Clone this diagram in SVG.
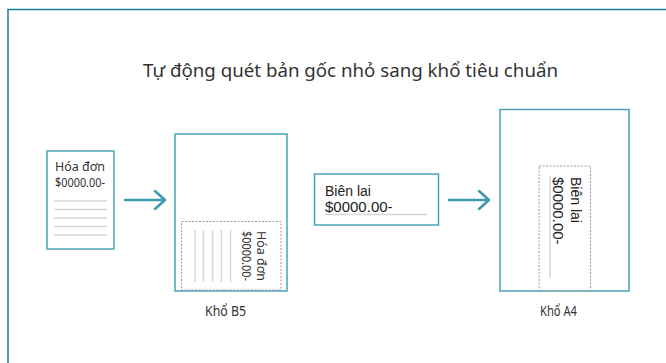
<svg xmlns="http://www.w3.org/2000/svg" width="666" height="363" viewBox="0 0 666 363">
<style>
.frame{fill:none;stroke:#1b7f95;stroke-width:1.5}
.box{fill:#fff;stroke:#4aa3b5;stroke-width:1.5}
.dot{fill:none;stroke:#9a9a9a;stroke-width:1;stroke-dasharray:2 1.5}
.gl{stroke:#d6d6d6;stroke-width:1.5;fill:none}
.arr{stroke:#3d9cb0;stroke-width:2.5;fill:none;stroke-linecap:round;stroke-linejoin:round}
.t{font-family:"Noto Sans","Open Sans","DejaVu Sans",sans-serif;fill:#333}
.a{font-family:"Liberation Sans",Arial,sans-serif;fill:#222}
</style>
<rect width="666" height="363" fill="#fff"/>
<path class="frame" d="M8,363 V9.5 H666"/>
<text class="t" x="143" y="77" font-size="18" textLength="415" lengthAdjust="spacingAndGlyphs">Tự động quét bản gốc nhỏ sang khổ tiêu chuẩn</text>

<g id="invoice">
<rect class="box" x="47" y="151" width="67" height="98"/>
<text class="t" x="55" y="171" font-size="12" textLength="50" lengthAdjust="spacingAndGlyphs">Hóa đơn</text>
<text class="t" x="55" y="187" font-size="12" textLength="50" lengthAdjust="spacingAndGlyphs">$0000.00-</text>
<path class="gl" d="M54,201 H107 M54,209.5 H107 M54,218 H107 M54,226.5 H107 M54,235 H107"/>
</g>

<g id="b5">
<rect class="box" x="175" y="134" width="112" height="157"/>
<rect class="dot" x="181.5" y="221.5" width="99.5" height="68.5"/>
<path class="gl" d="M195,230 V282 M203.5,230 V282 M212.5,230 V282 M221.5,230 V282 M230.5,230 V282"/>
<text class="t" font-size="12" transform="translate(257,231) rotate(90)" textLength="50" lengthAdjust="spacingAndGlyphs">Hóa đơn</text>
<text class="t" font-size="12" transform="translate(242,231) rotate(90)" textLength="50" lengthAdjust="spacingAndGlyphs">$0000.00-</text>
<text class="t" x="205" y="316" font-size="14" textLength="41" lengthAdjust="spacingAndGlyphs">Khổ B5</text>
</g>

<g id="receipt">
<rect class="box" x="314.5" y="174" width="124" height="51"/>
<text class="a" x="325" y="196" font-size="14">Biên lai</text>
<text class="a" x="325" y="212" font-size="15">$0000.00-</text>
<path class="gl" d="M325,214.5 H427"/>
</g>

<g id="a4">
<rect class="box" x="500" y="109.5" width="129" height="181.5"/>
<rect class="dot" x="539" y="166" width="51.5" height="125"/>
<path class="gl" d="M550,176 V278"/>
<text class="a" font-size="14" transform="translate(571,177) rotate(90)">Biên lai</text>
<text class="a" font-size="15" transform="translate(553,177) rotate(90)">$0000.00-</text>
<text class="t" x="540" y="316" font-size="14" textLength="37" lengthAdjust="spacingAndGlyphs">Khổ A4</text>
</g>

<g id="connectors">
<path class="arr" d="M125,200 H165 M155,191 L165,200 L155,209"/>
<path class="arr" d="M449,200 H489 M479,191 L489,200 L479,209"/>
</g>
</svg>
